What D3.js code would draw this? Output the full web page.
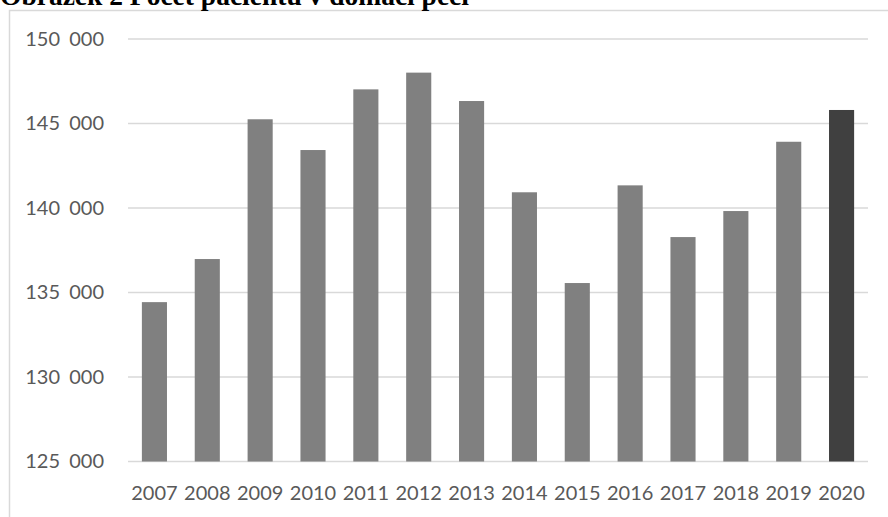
<!DOCTYPE html>
<html><head><meta charset="utf-8">
<script src="https://cdn.jsdelivr.net/npm/d3@7"></script>
<style>body{margin:0;background:#fff}svg{display:block}</style>
</head><body>
<svg id="c" width="888" height="517"></svg>
<script>
const years = ["2007","2008","2009","2010","2011","2012","2013","2014","2015","2016","2017","2018","2019","2020"];
const patients = [134430,136980,145250,143430,147020,148010,146330,140930,135560,141340,138280,139820,143920,145800];
const yTicks = [125000,130000,135000,140000,145000,150000];
const highlightYear = "2020";
const title = "Obrázek 2 Počet pacientů v domácí péči";

const svg = d3.select("#c");
// outer frame
svg.append("rect").attr("x",9.5).attr("y",10.5).attr("width",900).attr("height",600)
  .attr("fill","none").attr("stroke","#d9d9d9").attr("stroke-width",1.5);
// title (partly cut off at top, as in the source)
svg.append("text").attr("x",0).attr("y",5).text(title)
  .attr("font-family","'Liberation Serif','Times New Roman',serif").attr("font-weight","bold")
  .attr("font-size",27.5).attr("fill","#000");

const x = d3.scaleBand().domain(years).range([128,868]).paddingInner(0.525).paddingOuter(0.2625);
const y = d3.scaleLinear().domain([125000,150000]).range([461.5,39]);
const fmt = v => d3.format(",")(v).replace(/,/g," ");

const grid = svg.append("g");
grid.selectAll("line").data(yTicks).join("line")
  .attr("x1",128).attr("x2",868).attr("y1",d=>y(d)).attr("y2",d=>y(d))
  .attr("stroke","#d9d9d9").attr("stroke-width",1.5);

const yAxis = svg.append("g").attr("transform","translate(104,0)")
  .call(d3.axisLeft(y).tickValues(yTicks).tickFormat(fmt).tickSize(0).tickPadding(0));
yAxis.select(".domain").remove();
yAxis.selectAll("text").attr("font-family","Lato, 'Open Sans', sans-serif").attr("font-size",20)
  .attr("word-spacing",4).attr("fill","#595959");

svg.append("g").selectAll("rect").data(years).join("rect")
  .attr("x",d=>x(d)).attr("width",x.bandwidth())
  .attr("y",(d,i)=>y(patients[i])).attr("height",(d,i)=>y(125000)-y(patients[i]))
  .attr("fill",d=>d===highlightYear?"#404040":"#808080");

const xAxis = svg.append("g").attr("transform","translate(0,462)")
  .call(d3.axisBottom(x).tickSize(0).tickPadding(24));
xAxis.select(".domain").remove();
xAxis.selectAll("text").attr("font-family","Lato, 'Open Sans', sans-serif").attr("font-size",20).attr("fill","#595959");
</script>
</body></html>
